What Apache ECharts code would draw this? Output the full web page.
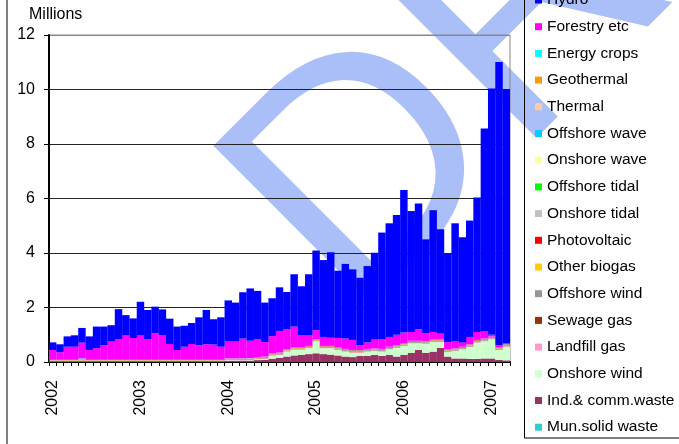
<!DOCTYPE html>
<html>
<head>
<meta charset="utf-8">
<script src="https://cdn.jsdelivr.net/npm/echarts@6/dist/echarts.min.js"></script>
<style>
  html, body { margin: 0; padding: 0; background: #fff; }
  #chart { width: 679px; height: 444px; }
</style>
</head>
<body>
<div id="chart"></div>
<script>
// monthly, Jan 2002 .. Mar 2007
const years = ['2002', '2003', '2004', '2005', '2006', '2007'];
const monthNames = ['Jan', 'Feb', 'Mar', 'Apr', 'May', 'Jun', 'Jul', 'Aug', 'Sep', 'Oct', 'Nov', 'Dec'];
const yTicks = [0, 2, 4, 6, 8, 10, 12];

const hydro = [
  0.28, 0.29, 0.38, 0.42, 0.54, 0.50, 0.79, 0.68, 0.60, 1.10, 0.75, 0.72,
  1.24, 1.07, 0.98, 0.94, 0.93, 0.86, 0.77, 0.77, 1.02, 1.26, 0.93, 1.08,
  1.51, 1.43, 1.70, 1.92, 1.78, 1.45, 1.39, 1.60, 1.37, 1.92, 1.79, 2.25,
  2.92, 2.82, 3.14, 2.47, 2.74, 2.59, 2.47, 2.80, 3.18, 3.92, 4.17, 4.39,
  5.23, 4.44, 4.62, 3.45, 4.47, 3.82, 3.26, 4.32, 3.86, 4.27, 4.94, 7.43,
  9.04, 10.39, 9.32
];
const forestry = [
  0.36, 0.28, 0.48, 0.48, 0.58, 0.36, 0.43, 0.54, 0.67, 0.76, 0.89, 0.80,
  0.89, 0.76, 0.97, 0.91, 0.58, 0.36, 0.48, 0.58, 0.54, 0.57, 0.56, 0.48,
  0.62, 0.62, 0.73, 0.64, 0.67, 0.53, 0.63, 0.79, 0.73, 0.76, 0.45, 0.38,
  0.33, 0.33, 0.30, 0.34, 0.38, 0.37, 0.18, 0.24, 0.33, 0.35, 0.36, 0.38,
  0.39, 0.32, 0.42, 0.28, 0.27, 0.22, 0.26, 0.27, 0.16, 0.27, 0.29, 0.28,
  0.07, 0.08, 0.02
];
const energyCrops = [
  0.01, 0.01, 0.01, 0.01, 0.06, 0.01, 0.01, 0.01, 0.01, 0.01, 0.01, 0.01,
  0.01, 0.01, 0.01, 0.01, 0.01, 0.01, 0.01, 0.01, 0.01, 0.01, 0.01, 0.01,
  0.01, 0.01, 0.01, 0.01, 0.01, 0.01, 0.01, 0.01, 0.01, 0.01, 0.01, 0.01,
  0.01, 0.01, 0.01, 0.01, 0.01, 0.01, 0.01, 0.01, 0.01, 0.01, 0.01, 0.01,
  0.01, 0.01, 0.01, 0.01, 0.01, 0.01, 0.01, 0.01, 0.01, 0.01, 0.01, 0.01,
  0.01, 0.01, 0.01
];
// thermal, geothermal, wave and tidal: nothing visible
const noOutput = [
  0, 0, 0, 0, 0, 0, 0, 0, 0, 0, 0, 0,
  0, 0, 0, 0, 0, 0, 0, 0, 0, 0, 0, 0,
  0, 0, 0, 0, 0, 0, 0, 0, 0, 0, 0, 0,
  0, 0, 0, 0, 0, 0, 0, 0, 0, 0, 0, 0,
  0, 0, 0, 0, 0, 0, 0, 0, 0, 0, 0, 0,
  0, 0, 0
];
const photovoltaic = [
  0, 0, 0, 0, 0, 0, 0, 0, 0, 0, 0, 0,
  0, 0, 0, 0, 0, 0, 0, 0, 0, 0, 0, 0,
  0, 0, 0, 0, 0, 0.02, 0.02, 0.02, 0.02, 0.02, 0.02, 0.02,
  0.02, 0.02, 0.02, 0.02, 0.02, 0.02, 0.02, 0.02, 0.02, 0.02, 0.02, 0.02,
  0.02, 0.02, 0.02, 0.02, 0.02, 0.02, 0.02, 0.02, 0.02, 0.02, 0.02, 0.02,
  0.02, 0.02, 0.02
];
const otherBiogas = [
  0.01, 0.01, 0.01, 0.01, 0.01, 0.01, 0.01, 0.01, 0.01, 0.01, 0.01, 0.01,
  0.01, 0.01, 0.01, 0.01, 0.01, 0.01, 0.01, 0.01, 0.01, 0.01, 0.01, 0.01,
  0.01, 0.01, 0.01, 0.01, 0.01, 0.01, 0.01, 0.01, 0.01, 0.01, 0.01, 0.01,
  0.01, 0.01, 0.01, 0.01, 0.01, 0.01, 0.01, 0.01, 0.01, 0.01, 0.01, 0.01,
  0.01, 0.01, 0.01, 0.01, 0.01, 0.01, 0.01, 0.01, 0.01, 0.01, 0.01, 0.01,
  0.01, 0.01, 0.01
];
const offshoreWind = [
  0, 0, 0, 0, 0, 0, 0, 0, 0, 0, 0, 0,
  0, 0, 0, 0, 0, 0, 0, 0, 0, 0, 0, 0,
  0.02, 0.02, 0.02, 0.02, 0.02, 0.02, 0.02, 0.02, 0.02, 0.02, 0.02, 0.02,
  0.02, 0.02, 0.02, 0.03, 0.03, 0.03, 0.03, 0.03, 0.03, 0.03, 0.03, 0.03,
  0.03, 0.03, 0.03, 0.03, 0.03, 0.03, 0.03, 0.03, 0.03, 0.03, 0.03, 0.03,
  0.03, 0.03, 0.03
];
const sewageGas = [
  0.01, 0.01, 0.01, 0.01, 0.01, 0.01, 0.01, 0.01, 0.01, 0.01, 0.01, 0.01,
  0.01, 0.01, 0.01, 0.01, 0.01, 0.01, 0.01, 0.01, 0.01, 0.01, 0.01, 0.01,
  0.01, 0.01, 0.01, 0.01, 0.01, 0.01, 0.01, 0.01, 0.01, 0.01, 0.01, 0.01,
  0.01, 0.01, 0.01, 0.01, 0.01, 0.01, 0.01, 0.01, 0.01, 0.01, 0.01, 0.01,
  0.01, 0.01, 0.01, 0.01, 0.01, 0.01, 0.01, 0.01, 0.01, 0.01, 0.01, 0.01,
  0.01, 0.01, 0.01
];
const landfillGas = [
  0.01, 0.01, 0.01, 0.01, 0.01, 0.01, 0.01, 0.01, 0.01, 0.01, 0.01, 0.01,
  0.01, 0.01, 0.01, 0.01, 0.01, 0.01, 0.01, 0.01, 0.01, 0.01, 0.01, 0.01,
  0.02, 0.02, 0.02, 0.02, 0.02, 0.02, 0.02, 0.02, 0.02, 0.02, 0.02, 0.02,
  0.02, 0.02, 0.02, 0.02, 0.02, 0.02, 0.02, 0.02, 0.02, 0.02, 0.02, 0.02,
  0.02, 0.02, 0.02, 0.02, 0.02, 0.02, 0.02, 0.02, 0.02, 0.02, 0.02, 0.02,
  0.02, 0.02, 0.02
];
const onshoreWind = [
  0.01, 0.01, 0.01, 0.01, 0.01, 0.01, 0.01, 0.01, 0.01, 0.01, 0.01, 0.01,
  0.01, 0.01, 0.01, 0.01, 0.01, 0.01, 0.01, 0.01, 0.01, 0.01, 0.01, 0.01,
  0.02, 0.02, 0.01, 0.02, 0.02, 0.03, 0.11, 0.11, 0.18, 0.21, 0.19, 0.21,
  0.43, 0.21, 0.23, 0.20, 0.18, 0.16, 0.12, 0.16, 0.14, 0.16, 0.20, 0.32,
  0.33, 0.34, 0.24, 0.33, 0.35, 0.21, 0.17, 0.27, 0.33, 0.44, 0.60, 0.63,
  0.70, 0.36, 0.50
];
const indCommWaste = [
  0.01, 0.01, 0.01, 0.01, 0.01, 0.01, 0.01, 0.01, 0.01, 0.01, 0.01, 0.01,
  0.01, 0.01, 0.01, 0.01, 0.01, 0.01, 0.01, 0.01, 0.01, 0.01, 0.01, 0.01,
  0.02, 0.02, 0.03, 0.03, 0.05, 0.06, 0.10, 0.13, 0.18, 0.22, 0.24, 0.27,
  0.30, 0.27, 0.25, 0.22, 0.18, 0.16, 0.20, 0.20, 0.24, 0.20, 0.24, 0.18,
  0.24, 0.32, 0.42, 0.32, 0.36, 0.50, 0.18, 0.11, 0.11, 0.09, 0.09, 0.11,
  0.11, 0.06, 0.04
];
const munSolidWaste = [
  0.02, 0.02, 0.02, 0.02, 0.02, 0.02, 0.02, 0.02, 0.02, 0.02, 0.02, 0.02,
  0.02, 0.02, 0.02, 0.02, 0.02, 0.02, 0.02, 0.02, 0.02, 0.02, 0.02, 0.02,
  0.02, 0.02, 0.02, 0.02, 0.02, 0.02, 0.02, 0.02, 0.02, 0.02, 0.02, 0.02,
  0.02, 0.02, 0.02, 0.02, 0.02, 0.02, 0.02, 0.02, 0.02, 0.02, 0.02, 0.02,
  0.02, 0.02, 0.02, 0.02, 0.02, 0.02, 0.02, 0.02, 0.02, 0.02, 0.02, 0.02,
  0.02, 0.02, 0.02
];

// stack order, bottom first
const stackNames = ['Mun.solid waste', 'Ind.& comm.waste', 'Onshore wind', 'Landfill gas', 'Sewage gas',
  'Offshore wind', 'Other biogas', 'Photovoltaic', 'Onshore tidal', 'Offshore tidal', 'Onshore wave',
  'Offshore wave', 'Thermal', 'Geothermal', 'Energy crops', 'Forestry etc', 'Hydro'];
const stackData = [munSolidWaste, indCommWaste, onshoreWind, landfillGas, sewageGas,
  offshoreWind, otherBiogas, photovoltaic, noOutput, noOutput, noOutput,
  noOutput, noOutput, noOutput, energyCrops, forestry, hydro];
const stackColors = ['#33CCCC', '#993366', '#CCFFCC', '#FF99CC', '#993300',
  '#969696', '#FFCC00', '#FF0000', '#C0C0C0', '#00FF00', '#FFFF99',
  '#00CCFF', '#FFCC99', '#FF9900', '#00FFFF', '#FF00FF', '#0000FF'];

const months = [];
years.forEach(y => monthNames.forEach(m => { if (months.length < hydro.length) months.push(m + ' ' + y) }));

const font = '"Liberation Sans", Arial, sans-serif';
const chart = echarts.init(document.getElementById('chart'), null, { renderer: 'canvas' });

chart.setOption({
  animation: false,
  backgroundColor: '#fff',
  title: {
    text: 'Millions',
    left: 29,
    top: 7,
    padding: 0,
    textStyle: { fontFamily: font, fontSize: 16, fontWeight: 'normal', color: '#000' }
  },
  legend: {
    orient: 'vertical',
    left: 535,
    top: -8,
    padding: 0,
    itemWidth: 7,
    itemHeight: 7,
    itemGap: 10.7,
    icon: 'rect',
    selectedMode: false,
    data: stackNames.slice().reverse(),
    textStyle: { fontFamily: font, fontSize: 15.5, color: '#000', lineHeight: 16 }
  },
  grid: {
    left: 49, top: 35, right: 169, bottom: 82,
    show: true, borderColor: '#888', borderWidth: 1,
    outerBoundsMode: 'none'
  },
  xAxis: {
    type: 'category',
    data: months,
    axisLine: { lineStyle: { color: '#000', width: 2 } },
    axisTick: { show: true, interval: 0, length: 4, lineStyle: { color: '#000' } },
    axisLabel: {
      interval: 0,
      rotate: 90,
      margin: 18,
      fontFamily: font,
      fontSize: 16,
      color: '#000',
      formatter: v => v.startsWith('Jan') ? v.slice(4) : ''
    },
    splitLine: { show: false }
  },
  yAxis: {
    type: 'value',
    min: yTicks[0],
    max: yTicks[yTicks.length - 1],
    interval: 2,
    axisLine: { show: true, lineStyle: { color: '#000', width: 2 } },
    axisTick: { show: true, length: 5, lineStyle: { color: '#000' } },
    axisLabel: { margin: 14, fontFamily: font, fontSize: 16, color: '#000' },
    splitLine: { show: true, lineStyle: { color: ['#222', '#222', '#222', '#222', '#222', '#222', '#888'], width: 1 } }
  },
  graphic: [
    {
      // watermark, thinned with a white outline
      type: 'text',
      x: 289, y: 259,
      rotation: Math.PI / 4,
      z: -10,
      silent: true,
      style: {
        text: 'DRAFT',
        font: '324px "Liberation Sans", Arial, sans-serif',
        fill: '#AABFF8',
        stroke: '#fff',
        lineWidth: 9,
        textAlign: 'left',
        textVerticalAlign: 'middle'
      }
    },
    {
      type: 'line',
      shape: { x1: 7, y1: 0, x2: 7, y2: 444 },
      style: { stroke: '#808080', lineWidth: 2 }
    },
    {
      type: 'rect',
      shape: { x: 524.5, y: -2, width: 200, height: 440 },
      style: { fill: 'none', stroke: '#000', lineWidth: 1 }
    }
  ],
  series: stackNames.map((name, i) => ({
    name,
    type: 'bar',
    stack: 'total',
    barWidth: '102%',
    itemStyle: { color: stackColors[i] },
    emphasis: { disabled: true },
    data: stackData[i]
  }))
});
</script>
</body>
</html>
